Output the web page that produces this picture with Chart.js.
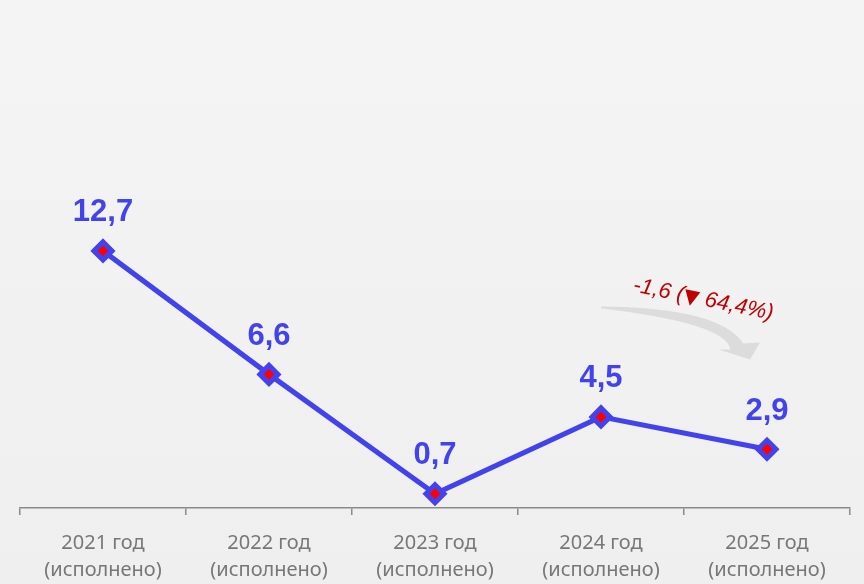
<!DOCTYPE html>
<html lang="ru">
<head>
<meta charset="UTF-8">
<title>Динамика</title>
<script src="https://cdn.jsdelivr.net/npm/chart.js"></script>
<style>
  html, body { margin: 0; padding: 0; background: #f3f3f3; }
  #wrap { width: 864px; height: 584px; position: relative; }
</style>
</head>
<body>
<div id="wrap"><canvas id="chart"></canvas></div>
<script>
const years = ['2021 год', '2022 год', '2023 год', '2024 год', '2025 год'];
const status = ['(исполнено)', '(исполнено)', '(исполнено)', '(исполнено)', '(исполнено)'];
const values = [12.7, 6.6, 0.7, 4.5, 2.9];
const changeParts = ['-1,6 (', '\u25BC', ' 64,4%)'];

const blue = '#4343ee';
const fmt = v => v.toFixed(1).replace('.', ',');

// background fill
const bgPlugin = {
  id: 'bg',
  beforeDraw(chart) {
    const { ctx, width, height } = chart;
    const g = ctx.createLinearGradient(0, 0, 0, height);
    g.addColorStop(0, '#f4f4f4');
    g.addColorStop(1, '#efefef');
    ctx.save();
    ctx.fillStyle = g;
    ctx.fillRect(0, 0, width, height);
    ctx.restore();
  }
};

// value labels above points
const labelPlugin = {
  id: 'valueLabels',
  afterDatasetsDraw(chart) {
    const { ctx } = chart;
    const meta = chart.getDatasetMeta(0);
    ctx.save();
    ctx.font = 'bold 31px "Liberation Sans", Arial, sans-serif';
    ctx.fillStyle = blue;
    ctx.textAlign = 'center';
    ctx.textBaseline = 'middle';
    meta.data.forEach((pt, i) => {
      ctx.fillText(fmt(values[i]), pt.x, pt.y - 38);
    });
    ctx.restore();
  }
};

// curved arrow + change note between last two points
const notePlugin = {
  id: 'changeNote',
  beforeDatasetsDraw(chart) {
    const { ctx } = chart;
    const xs = chart.scales.x, ys = chart.scales.y;
    const x0 = xs.getPixelForValue(3);
    const w = xs.getPixelForValue(4) - x0;
    const y0 = ys.getPixelForValue(9.95);
    const u = t => x0 + w * t;
    ctx.save();
    ctx.fillStyle = '#dcdcdc';
    ctx.beginPath();
    ctx.moveTo(u(0), y0);
    ctx.quadraticCurveTo(u(0.716), y0 + 1, u(0.857), y0 + 37);
    ctx.lineTo(u(0.958), y0 + 36);
    ctx.lineTo(u(0.898), y0 + 53);
    ctx.lineTo(u(0.707), y0 + 43);
    ctx.lineTo(u(0.78), y0 + 43);
    ctx.quadraticCurveTo(u(0.754), y0 + 16.5, u(0), y0 + 2);
    ctx.closePath();
    ctx.fill();

    // rotated note text, triangle drawn a bit larger
    const fontMain = 'italic 22px "Liberation Sans", Arial, sans-serif';
    const fontTri = '20px "DejaVu Sans", sans-serif';
    ctx.translate(u(0.617), y0 - 7);
    ctx.rotate(11.5 * Math.PI / 180);
    ctx.fillStyle = '#c00000';
    ctx.textBaseline = 'middle';
    ctx.textAlign = 'left';
    const widths = changeParts.map((p, i) => {
      ctx.font = i === 1 ? fontTri : fontMain;
      return ctx.measureText(p).width;
    });
    let x = -widths.reduce((a, b) => a + b, 0) / 2;
    changeParts.forEach((p, i) => {
      ctx.font = i === 1 ? fontTri : fontMain;
      ctx.fillText(p, x, i === 1 ? 1 : 0);
      x += widths[i];
    });
    ctx.restore();
  }
};

new Chart(document.getElementById('chart'), {
  type: 'line',
  data: {
    labels: years.map((y, i) => [y, status[i]]),
    datasets: [{
      data: values,
      borderColor: blue,
      borderWidth: 5,
      pointStyle: 'rectRot',
      pointRadius: 9,
      pointHoverRadius: 9,
      pointBackgroundColor: '#ff0000',
      pointBorderColor: blue,
      pointBorderWidth: 5,
      tension: 0,
      clip: false
    }]
  },
  options: {
    responsive: true,
    maintainAspectRatio: false,
    animation: false,
    layout: { padding: { left: 20, right: 11, top: 0, bottom: -15 } },
    plugins: { legend: { display: false }, tooltip: { enabled: false } },
    scales: {
      x: {
        offset: true,
        grid: {
          offset: true,
          drawOnChartArea: false,
          drawTicks: true,
          tickLength: 7,
          color: '#8a8a8a',
          lineWidth: 1.5
        },
        border: { display: true, color: '#8a8a8a', width: 1.5 },
        ticks: {
          color: '#777777',
          padding: 15,
          font: { family: '"Noto Sans", "Open Sans", sans-serif', size: 20, lineHeight: 1.35 },
          maxRotation: 0
        }
      },
      y: {
        display: false,
        min: 0,
        max: 24.4
      }
    }
  },
  plugins: [bgPlugin, notePlugin, labelPlugin]
});
</script>
</body>
</html>
